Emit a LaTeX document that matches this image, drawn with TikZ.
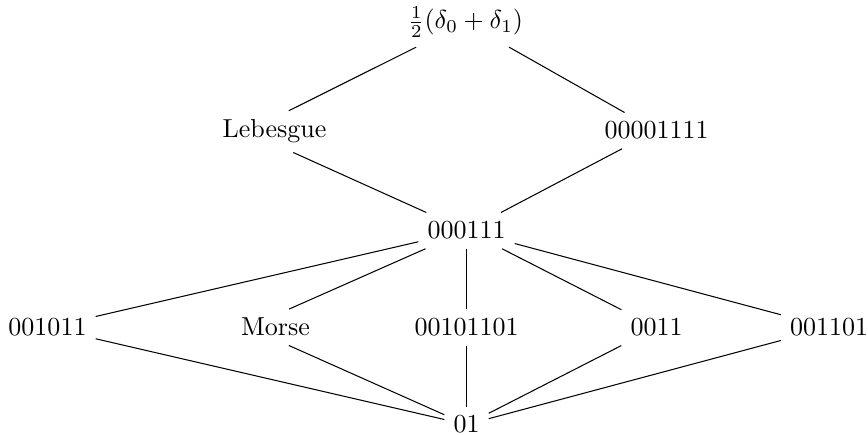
\documentclass[tikz,border=0pt]{standalone}
\begin{document}
\begin{tikzpicture}[x=0.3846pt,y=-0.3846pt,
  lbl/.style={inner sep=3.33pt,anchor=base},
  padded/.style={execute at begin node={\hspace*{21.2pt}}},
  link/.style={draw=black,line width=0.4pt}]
\useasboundingbox (0,0) rectangle (868,435);
\node[lbl] (top) at (465.5,29) {$\frac{1}{2}(\delta_0+\delta_1)$};
\node[lbl,padded] (leb) at (247,138) {Lebesgue};
\node[lbl] (a4) at (656.5,139) {00001111};
\node[lbl] (a3) at (466.5,239) {000111};
\node[lbl] (b1) at (47.5,336) {001011};
\node[lbl,padded] (mor) at (248,336) {Morse};
\node[lbl] (b3) at (466.5,336) {00101101};
\node[lbl] (b4) at (656.5,336) {0011};
\node[lbl] (b5) at (829,336) {001101};
\node[lbl] (bot) at (466.5,433) {01};
\path[link] (top) -- (leb);
\path[link] (top) -- (a4);
\path[link] (leb) -- (a3);
\path[link] (a4) -- (a3);
\foreach \n in {b1,mor,b3,b4,b5} {
  \path[link] (a3) -- (\n);
  \path[link] (\n) -- (bot);
}
\end{tikzpicture}
\end{document}
